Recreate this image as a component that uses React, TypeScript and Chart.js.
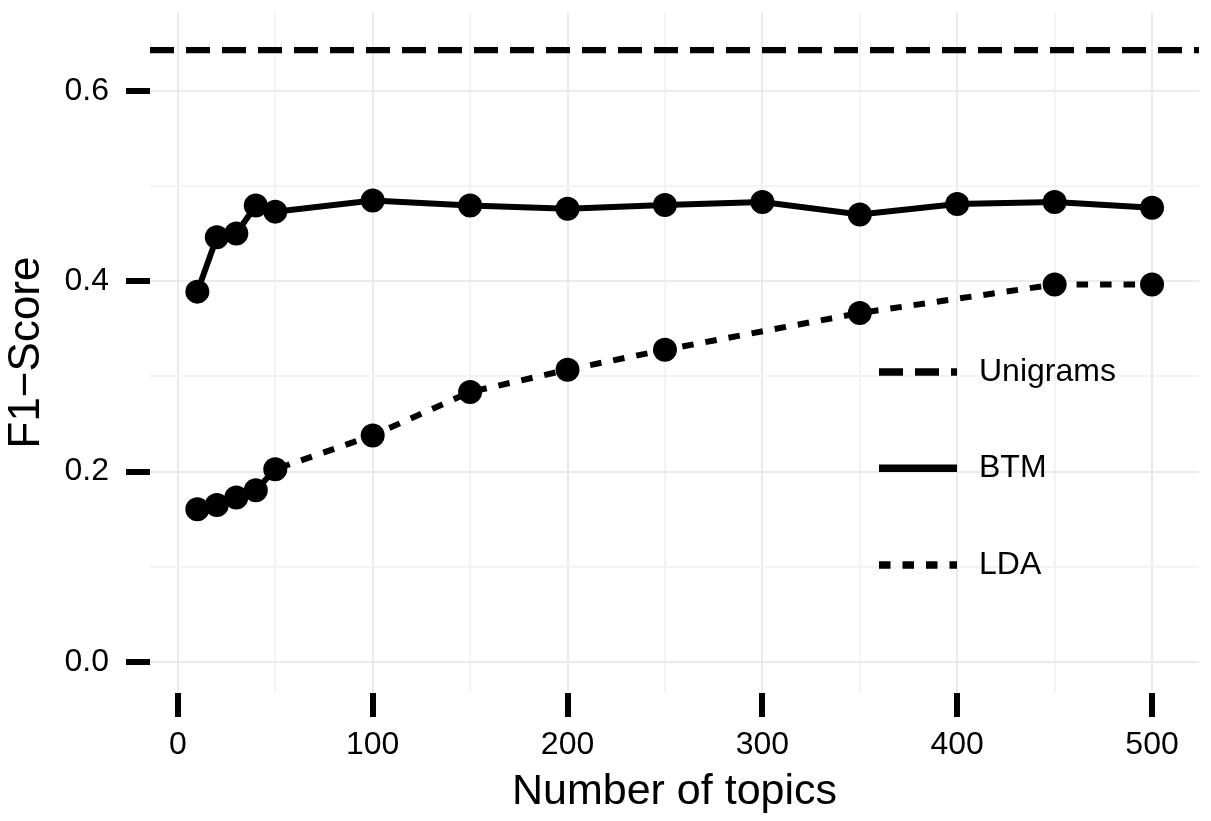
import React, { useEffect, useRef } from "react";
import { Chart, registerables } from "chart.js";

Chart.register(...registerables);

// ---- data ----
const BTM_TOPICS = [10, 20, 30, 40, 50, 100, 150, 200, 250, 300, 350, 400, 450, 500];
const BTM_F1 = [0.389, 0.446, 0.45, 0.4795, 0.473, 0.4847, 0.4795, 0.476, 0.48, 0.483, 0.47, 0.481, 0.483, 0.477];
const LDA_TOPICS = [10, 20, 30, 40, 50, 100, 150, 200, 250, 350, 450, 500];
const LDA_F1 = [0.1606, 0.1651, 0.1728, 0.1805, 0.2025, 0.238, 0.2836, 0.307, 0.328, 0.3666, 0.3965, 0.3965];
const UNIGRAMS_F1 = 0.6425;
const LEGEND_LABELS = ["Unigrams", "BTM", "LDA"];
const X_RANGE = [-14.3, 524.1];
const Y_RANGE = [-0.0324, 0.6826];

const FONT = "'Liberation Sans', Arial, Helvetica, sans-serif";

const legendPlugin = {
  id: "insideLegend",
  afterDraw(chart: any) {
    const ctx = chart.ctx;
    const styles = [
      { dash: [24, 12] },
      { dash: [] },
      { dash: [11.5, 12] },
    ];
    const ys = [372, 468.3, 565];
    ctx.save();
    LEGEND_LABELS.forEach((label, i) => {
      ctx.beginPath();
      ctx.setLineDash(styles[i].dash);
      ctx.lineWidth = 7.5;
      ctx.strokeStyle = "#000";
      ctx.lineCap = "butt";
      ctx.moveTo(879, ys[i]);
      ctx.lineTo(957, ys[i]);
      ctx.stroke();
      ctx.setLineDash([]);
      ctx.fillStyle = "#000";
      ctx.font = `32px ${FONT}`;
      ctx.textAlign = "left";
      ctx.textBaseline = "middle";
      ctx.fillText(label, 979, ys[i]);
    });
    ctx.restore();
  },
};

export default function App() {
  const ref = useRef<HTMLCanvasElement>(null);

  useEffect(() => {
    if (!ref.current) return;
    const isMajorX = (v: number) => Math.round(v) % 100 === 0;
    const isMajorY = (v: number) => Math.round(v * 10) % 2 === 0;

    const chart = new Chart(ref.current, {
      type: "line",
      data: {
        datasets: [
          {
            label: "Unigrams",
            data: [
              { x: X_RANGE[0], y: UNIGRAMS_F1 },
              { x: X_RANGE[1], y: UNIGRAMS_F1 },
            ],
            borderColor: "#000",
            borderWidth: 6.3,
            borderDash: [24, 12],
            pointRadius: 0,
            pointHoverRadius: 0,
          },
          {
            label: "BTM",
            data: BTM_TOPICS.map((x, i) => ({ x, y: BTM_F1[i] })),
            borderColor: "#000",
            borderWidth: 6,
            pointRadius: 12,
            pointBackgroundColor: "#000",
            pointBorderWidth: 0,
            tension: 0,
          },
          {
            label: "LDA",
            data: LDA_TOPICS.map((x, i) => ({ x, y: LDA_F1[i] })),
            borderColor: "#000",
            borderWidth: 6,
            borderDash: [11.5, 12],
            pointRadius: 12,
            pointBackgroundColor: "#000",
            pointBorderWidth: 0,
            tension: 0,
          },
        ],
      },
      options: {
        animation: false,
        responsive: false,
        maintainAspectRatio: false,
        devicePixelRatio: 1,
        layout: { padding: { top: 9, right: 11, left: 0, bottom: 0 } },
        plugins: {
          legend: { display: false },
          tooltip: { enabled: false },
        },
        scales: {
          x: {
            type: "linear",
            position: "bottom",
            min: X_RANGE[0],
            max: X_RANGE[1],
            afterFit: (s: any) => {
              s.height = 128;
              s.paddingLeft = 0;
              s.paddingRight = 0;
            },
            border: { display: false },
            grid: {
              color: (c: any) => (c.tick && isMajorX(c.tick.value) ? "#EBEBEB" : "#F4F4F4"),
              lineWidth: 2,
              tickColor: (c: any) => (c.tick && isMajorX(c.tick.value) ? "#000" : "rgba(0,0,0,0)"),
              tickWidth: 6,
              tickLength: 24,
              drawTicks: true,
            },
            ticks: {
              stepSize: 50,
              includeBounds: false,
              autoSkip: false,
              maxRotation: 0,
              minRotation: 0,
              padding: 12.5,
              color: "#000",
              font: { family: FONT, size: 32, lineHeight: 1 },
              callback: (v: any) => (isMajorX(Number(v)) ? String(Math.round(Number(v))) : ""),
            },
            title: {
              display: true,
              text: "Number of topics",
              color: "#000",
              font: { family: FONT, size: 43, lineHeight: 1 },
              padding: { top: 0, bottom: 7.5 },
            },
          },
          y: {
            type: "linear",
            position: "left",
            min: Y_RANGE[0],
            max: Y_RANGE[1],
            afterFit: (s: any) => {
              s.width = 150;
              s.paddingTop = 0;
              s.paddingBottom = 0;
            },
            border: { display: false },
            grid: {
              color: (c: any) => (c.tick && isMajorY(c.tick.value) ? "#EBEBEB" : "#F4F4F4"),
              lineWidth: 2,
              tickColor: (c: any) => (c.tick && isMajorY(c.tick.value) ? "#000" : "rgba(0,0,0,0)"),
              tickWidth: 6,
              tickLength: 24,
              drawTicks: true,
            },
            ticks: {
              stepSize: 0.1,
              includeBounds: false,
              autoSkip: false,
              padding: 17,
              color: "#000",
              font: { family: FONT, size: 32, lineHeight: 1 },
              callback: (v: any) => (isMajorY(Number(v)) ? Number(v).toFixed(1) : ""),
            },
            title: {
              display: true,
              text: "F1\u2212Score",
              color: "#000",
              font: { family: FONT, size: 44, lineHeight: 1 },
              padding: { top: 4.5, bottom: 0 },
            },
          },
        },
      },
      plugins: [legendPlugin],
    } as any);

    return () => chart.destroy();
  }, []);

  return (
    <div style={{ position: "absolute", left: 0, top: 0, width: 1211, height: 821, background: "#fff" }}>
      <canvas ref={ref} width={1211} height={821} style={{ display: "block", width: 1211, height: 821 }} />
    </div>
  );
}
